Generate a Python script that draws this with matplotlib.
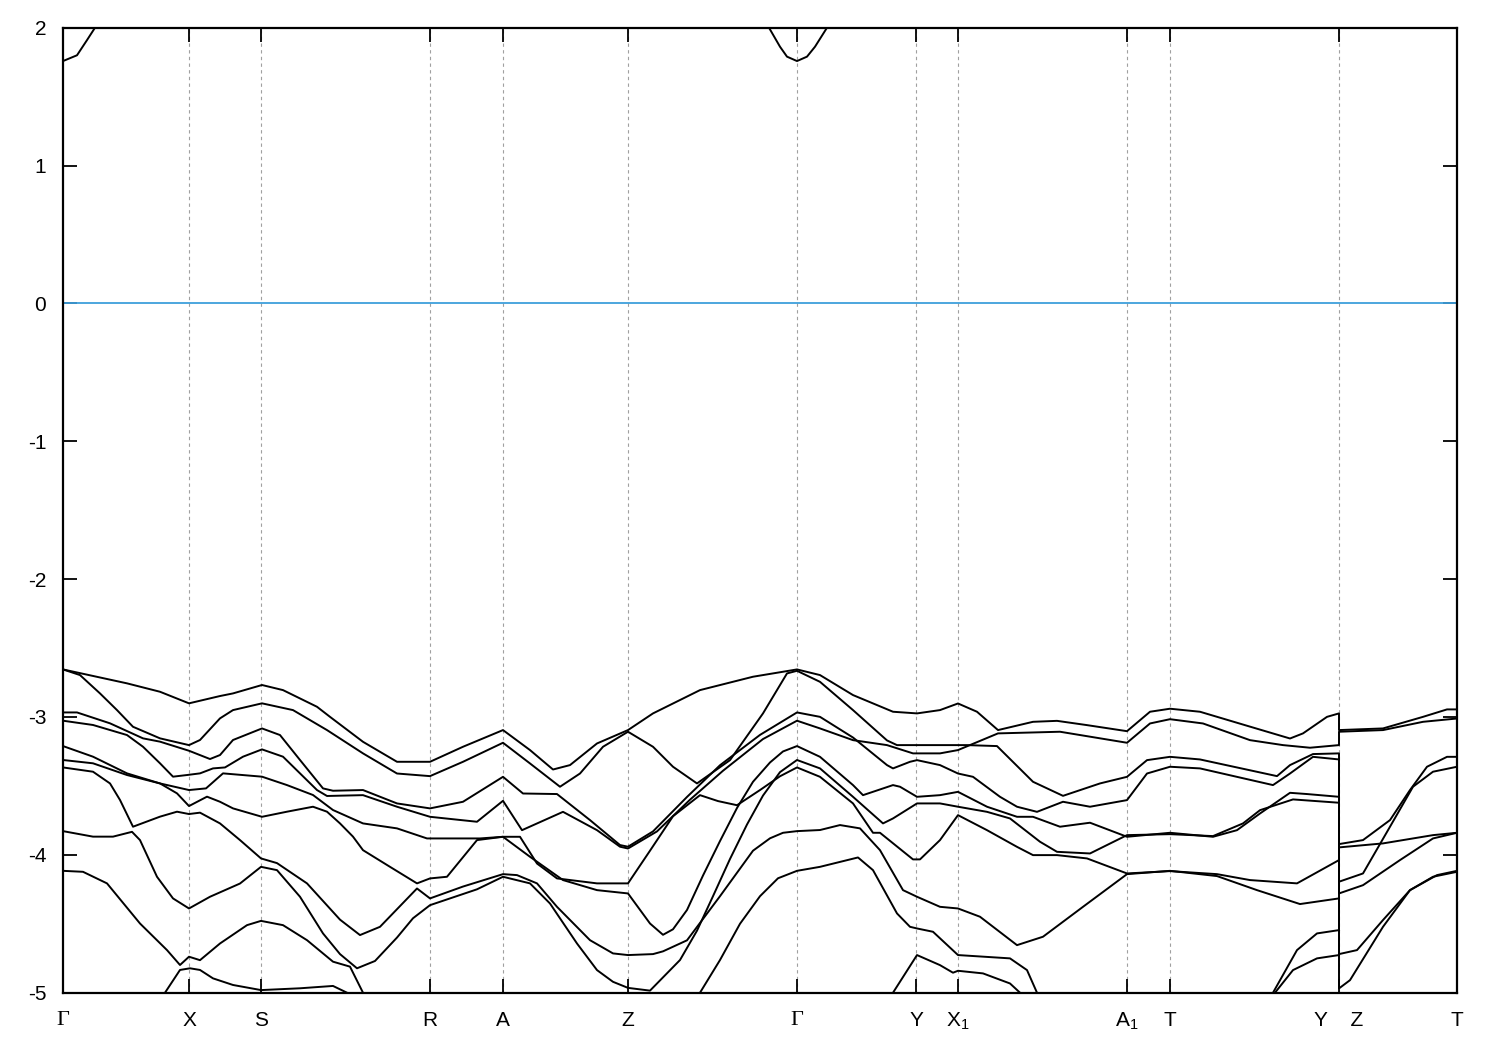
import numpy as np
import matplotlib
matplotlib.use('Agg')
import matplotlib.pyplot as plt

nan = np.nan

# high-symmetry points along the k-path (arb. units)
sym_k = [0, 126, 198, 367, 440, 565, 734, 853, 895, 1064, 1107, 1276, 1394]
sym_labels = ['Γ', 'X', 'S', 'R', 'A', 'Z', 'Γ', 'Y', 'X$_1$', 'A$_1$', 'T', 'Y    Z', 'T']

# conduction band (only the bottom reaches the window)
cband = [(0, 1.758), (14, 1.80), (24, 1.91), (32, 2.0), (nan, nan),
         (706, 2.0), (717, 1.862), (724, 1.790), (734, 1.758), (744, 1.790), (752, 1.862), (764, 2.0)]

# valence bands, (k, E) in eV
band1 = [(0, -2.655), (64, -2.756), (97, -2.817), (126, -2.901), (157, -2.848), (170, -2.829), (199, -2.768),
         (220, -2.805), (254, -2.926), (267, -2.999), (300, -3.180), (334, -3.325), (367, -3.325), (400, -3.216),
         (440, -3.095), (467, -3.240), (490, -3.381), (507, -3.349), (534, -3.192), (565, -3.095), (590, -2.974),
         (637, -2.805), (690, -2.708), (734, -2.655), (757, -2.696), (790, -2.841), (830, -2.962), (854, -2.974),
         (877, -2.950), (895, -2.902), (914, -2.962), (935, -3.095), (970, -3.035), (994, -3.028), (1024, -3.059),
         (1064, -3.103), (1087, -2.962), (1107, -2.940), (1137, -2.962), (1187, -3.07), (1227, -3.156),
         (1240, -3.119), (1264, -2.999), (1276, -2.974), (1276, -3.095), (1320, -3.083), (1360, -2.999),
         (1384, -2.945), (1394, -2.945)]
band2 = [(0, -2.655), (17, -2.696), (37, -2.829), (54, -2.950), (70, -3.071), (97, -3.155), (126, -3.204),
         (137, -3.167), (157, -3.010), (170, -2.950), (199, -2.901), (230, -2.950), (264, -3.095), (300, -3.264),
         (334, -3.410), (367, -3.429), (400, -3.325), (440, -3.187), (467, -3.337), (497, -3.506), (517, -3.410),
         (540, -3.216), (565, -3.107), (590, -3.216), (610, -3.361), (634, -3.482), (650, -3.40), (667, -3.313),
         (700, -2.974), (724, -2.684), (734, -2.665), (757, -2.745), (790, -2.950), (824, -3.17), (834, -3.204),
         (854, -3.204), (904, -3.204), (934, -3.211), (970, -3.470), (1000, -3.572), (1037, -3.482),
         (1064, -3.434), (1084, -3.313), (1107, -3.289), (1137, -3.308), (1214, -3.429), (1227, -3.349),
         (1250, -3.269), (1276, -3.264), (1276, -3.922), (1300, -3.893), (1327, -3.748), (1347, -3.530),
         (1364, -3.361), (1384, -3.289), (1394, -3.289)]
band3 = [(0, -2.967), (14, -2.967), (47, -3.046), (80, -3.155), (97, -3.179), (126, -3.245), (147, -3.305),
         (157, -3.276), (170, -3.167), (199, -3.083), (217, -3.131), (237, -3.312), (260, -3.518), (270, -3.535),
         (300, -3.530), (334, -3.627), (367, -3.663), (400, -3.615), (440, -3.434), (460, -3.555), (494, -3.559),
         (527, -3.748), (557, -3.929), (565, -3.941), (590, -3.83), (624, -3.58), (657, -3.35), (697, -3.13),
         (734, -2.967), (757, -2.999), (790, -3.149), (824, -3.349), (830, -3.373), (847, -3.325), (854, -3.313),
         (877, -3.349), (895, -3.410), (910, -3.434), (937, -3.579), (954, -3.651), (974, -3.688), (1000, -3.615),
         (1027, -3.651), (1064, -3.603), (1084, -3.410), (1107, -3.361), (1137, -3.373), (1210, -3.494),
         (1227, -3.410), (1250, -3.289), (1276, -3.308), (1276, -3.946), (1320, -3.917), (1370, -3.857),
         (1394, -3.840)]
band4 = [(0, -3.027), (30, -3.058), (64, -3.131), (80, -3.216), (97, -3.336), (110, -3.433), (124, -3.421),
         (137, -3.409), (150, -3.373), (162, -3.366), (180, -3.288), (199, -3.235), (220, -3.288), (237, -3.409),
         (254, -3.530), (264, -3.573), (300, -3.567), (334, -3.651), (367, -3.724), (414, -3.760), (440, -3.608),
         (459, -3.821), (500, -3.688), (534, -3.821), (557, -3.941), (565, -3.954), (594, -3.83), (627, -3.60),
         (660, -3.39), (700, -3.16), (734, -3.027), (757, -3.083), (790, -3.168), (824, -3.204), (850, -3.264),
         (877, -3.264), (895, -3.240), (935, -3.119), (997, -3.107), (1064, -3.187), (1087, -3.047),
         (1107, -3.016), (1140, -3.047), (1187, -3.168), (1220, -3.204), (1247, -3.223), (1276, -3.204),
         (1276, -3.107), (1320, -3.095), (1360, -3.035), (1394, -3.011)]
band5 = [(0, -3.211), (30, -3.288), (64, -3.409), (97, -3.482), (126, -3.530), (143, -3.518), (160, -3.409),
         (199, -3.433), (224, -3.494), (250, -3.566), (270, -3.675), (300, -3.772), (334, -3.808), (364, -3.881),
         (417, -3.881), (440, -3.869), (457, -3.869), (474, -4.063), (494, -4.171), (534, -4.207), (565, -4.207),
         (587, -3.97), (610, -3.72), (637, -3.567), (655, -3.61), (674, -3.64), (697, -3.53), (717, -3.43),
         (734, -3.366), (757, -3.434), (790, -3.627), (810, -3.840), (817, -3.840), (850, -4.033), (857, -4.033),
         (877, -3.893), (895, -3.712), (924, -3.821), (954, -3.942), (970, -4.002), (994, -4.002), (1024, -4.026),
         (1064, -4.135), (1107, -4.118), (1154, -4.140), (1187, -4.183), (1234, -4.207), (1276, -4.038),
         (1276, -4.720), (1294, -4.691), (1320, -4.473), (1347, -4.256), (1370, -4.159), (1394, -4.123)]
band6 = [(0, -3.312), (30, -3.336), (64, -3.421), (97, -3.482), (114, -3.554), (126, -3.646), (144, -3.578),
         (157, -3.615), (170, -3.663), (199, -3.724), (224, -3.687), (250, -3.651), (264, -3.687), (277, -3.772),
         (290, -3.868), (300, -3.966), (327, -4.087), (354, -4.207), (367, -4.171), (384, -4.159), (414, -3.893),
         (440, -3.869), (467, -4.014), (500, -4.183), (534, -4.256), (565, -4.280), (587, -4.498), (600, -4.58),
         (610, -4.54), (624, -4.40), (640, -4.15), (657, -3.90), (674, -3.66), (690, -3.47), (707, -3.33),
         (720, -3.25), (734, -3.211), (757, -3.289), (790, -3.494), (800, -3.567), (830, -3.494), (837, -3.506),
         (854, -3.579), (877, -3.567), (895, -3.543), (924, -3.651), (954, -3.724), (970, -3.724), (997, -3.796),
         (1027, -3.767), (1064, -3.869), (1107, -3.840), (1150, -3.869), (1174, -3.821), (1197, -3.700),
         (1227, -3.550), (1244, -3.559), (1276, -3.579), (1276, -4.195), (1300, -4.135), (1327, -3.796),
         (1350, -3.506), (1370, -3.397), (1394, -3.361)]
band7 = [(0, -3.366), (30, -3.397), (47, -3.482), (57, -3.602), (70, -3.796), (97, -3.723), (114, -3.687),
         (126, -3.704), (137, -3.694), (157, -3.772), (177, -3.893), (198, -4.026), (214, -4.06), (244, -4.207),
         (277, -4.47), (297, -4.582), (317, -4.522), (354, -4.244), (367, -4.316), (400, -4.23), (440, -4.140),
         (454, -4.147), (474, -4.207), (494, -4.377), (527, -4.619), (550, -4.715), (565, -4.727), (590, -4.72),
         (600, -4.70), (624, -4.62), (657, -4.30), (690, -3.97), (707, -3.88), (720, -3.84), (734, -3.828),
         (757, -3.820), (777, -3.784), (797, -3.808), (817, -3.966), (840, -4.256), (854, -4.304), (877, -4.377),
         (895, -4.389), (917, -4.449), (954, -4.655), (980, -4.594), (1020, -4.377), (1064, -4.140),
         (1107, -4.116), (1154, -4.154), (1194, -4.256), (1237, -4.357), (1276, -4.316), (1276, -4.969),
         (1287, -4.909), (1320, -4.522), (1347, -4.256), (1374, -4.147), (1394, -4.116)]
band8 = [(0, -3.828), (30, -3.868), (50, -3.868), (69, -3.833), (77, -3.893), (94, -4.159), (110, -4.316),
         (126, -4.389), (147, -4.304), (177, -4.208), (198, -4.087), (214, -4.111), (237, -4.304), (260, -4.570),
         (277, -4.72), (294, -4.823), (312, -4.77), (334, -4.60), (350, -4.46), (367, -4.365), (414, -4.25),
         (440, -4.159), (467, -4.207), (487, -4.353), (514, -4.643), (534, -4.836), (550, -4.921), (565, -4.965),
         (587, -4.985), (617, -4.763), (634, -4.55), (650, -4.30), (667, -4.03), (684, -3.78), (700, -3.57),
         (717, -3.40), (734, -3.312), (757, -3.373), (790, -3.579), (820, -3.772), (830, -3.736), (854, -3.627),
         (877, -3.627), (895, -3.651), (924, -3.688), (947, -3.736), (977, -3.905), (994, -3.978), (1027, -3.990),
         (1064, -3.857), (1107, -3.850), (1150, -3.864), (1180, -3.772), (1197, -3.676), (1230, -3.598),
         (1276, -3.622), (1276, -4.280), (1300, -4.220), (1337, -4.038), (1370, -3.881), (1394, -3.840)]
band9 = [(0, -4.116), (20, -4.123), (44, -4.207), (77, -4.498), (104, -4.691), (117, -4.799), (126, -4.739),
         (137, -4.764), (157, -4.643), (184, -4.510), (198, -4.479), (220, -4.510), (244, -4.619), (270, -4.775),
         (287, -4.811), (300, -5.0), (nan, nan), (637, -5.0), (657, -4.763), (677, -4.50), (697, -4.30),
         (715, -4.17), (734, -4.116), (757, -4.087), (795, -4.019), (810, -4.111), (834, -4.425), (847, -4.522),
         (854, -4.534), (870, -4.558), (895, -4.727), (947, -4.751), (964, -4.836), (974, -5.0), (nan, nan),
         (1210, -5.0), (1234, -4.691), (1254, -4.570), (1276, -4.546)]
band10 = [(102, -5.0), (117, -4.835), (127, -4.823), (137, -4.835), (150, -4.896), (170, -4.944), (198, -4.981),
          (237, -4.968), (270, -4.951), (284, -5.0), (nan, nan), (830, -5.0), (854, -4.727), (877, -4.800),
          (890, -4.855), (895, -4.841), (920, -4.860), (947, -4.933), (957, -5.0), (nan, nan), (1212, -5.0),
          (1230, -4.836), (1254, -4.751), (1276, -4.727)]

valence = [band1, band2, band3, band4, band5, band6, band7, band8, band9, band10]

plt.rcParams['font.family'] = ['Liberation Sans', 'DejaVu Sans']
plt.rcParams['mathtext.fontset'] = 'custom'
plt.rcParams['mathtext.rm'] = 'Liberation Sans'
plt.rcParams['axes.unicode_minus'] = False

fig = plt.figure(figsize=(15, 10.5), dpi=100)
ax = fig.add_axes([63 / 1500, 57.3 / 1050, 1394 / 1500, 965 / 1050])

for kx in sym_k[1:-1]:
    ax.axvline(kx, color='#a0a0a0', lw=0.8, dashes=(3, 3), zorder=1)

ax.axhline(0, color='#3e9fdb', lw=1.3, zorder=2)

for b in valence + [cband]:
    arr = np.array(b, dtype=float)
    ax.plot(arr[:, 0], arr[:, 1], color='black', lw=1.4, zorder=3)

ax.set_xlim(sym_k[0], sym_k[-1])
ax.set_ylim(-5, 2)
ax.set_xticks(sym_k)
ax.set_xticklabels(sym_labels)
ax.set_yticks(np.arange(-5, 3, 1))
ax.set_yticklabels([str(v) for v in range(-5, 3)])
ax.tick_params(axis='both', direction='in', length=10, width=1.3, labelsize=15,
               top=True, right=True)
ax.tick_params(axis='x', pad=13)
ax.tick_params(axis='y', pad=12)
for lbl in ax.get_xticklabels():
    if lbl.get_text() == 'Γ':
        lbl.set_family('Liberation Serif')
        lbl.set_fontsize(16)
for sp in ax.spines.values():
    sp.set_linewidth(1.6)

fig.savefig('out.png', dpi=100)
